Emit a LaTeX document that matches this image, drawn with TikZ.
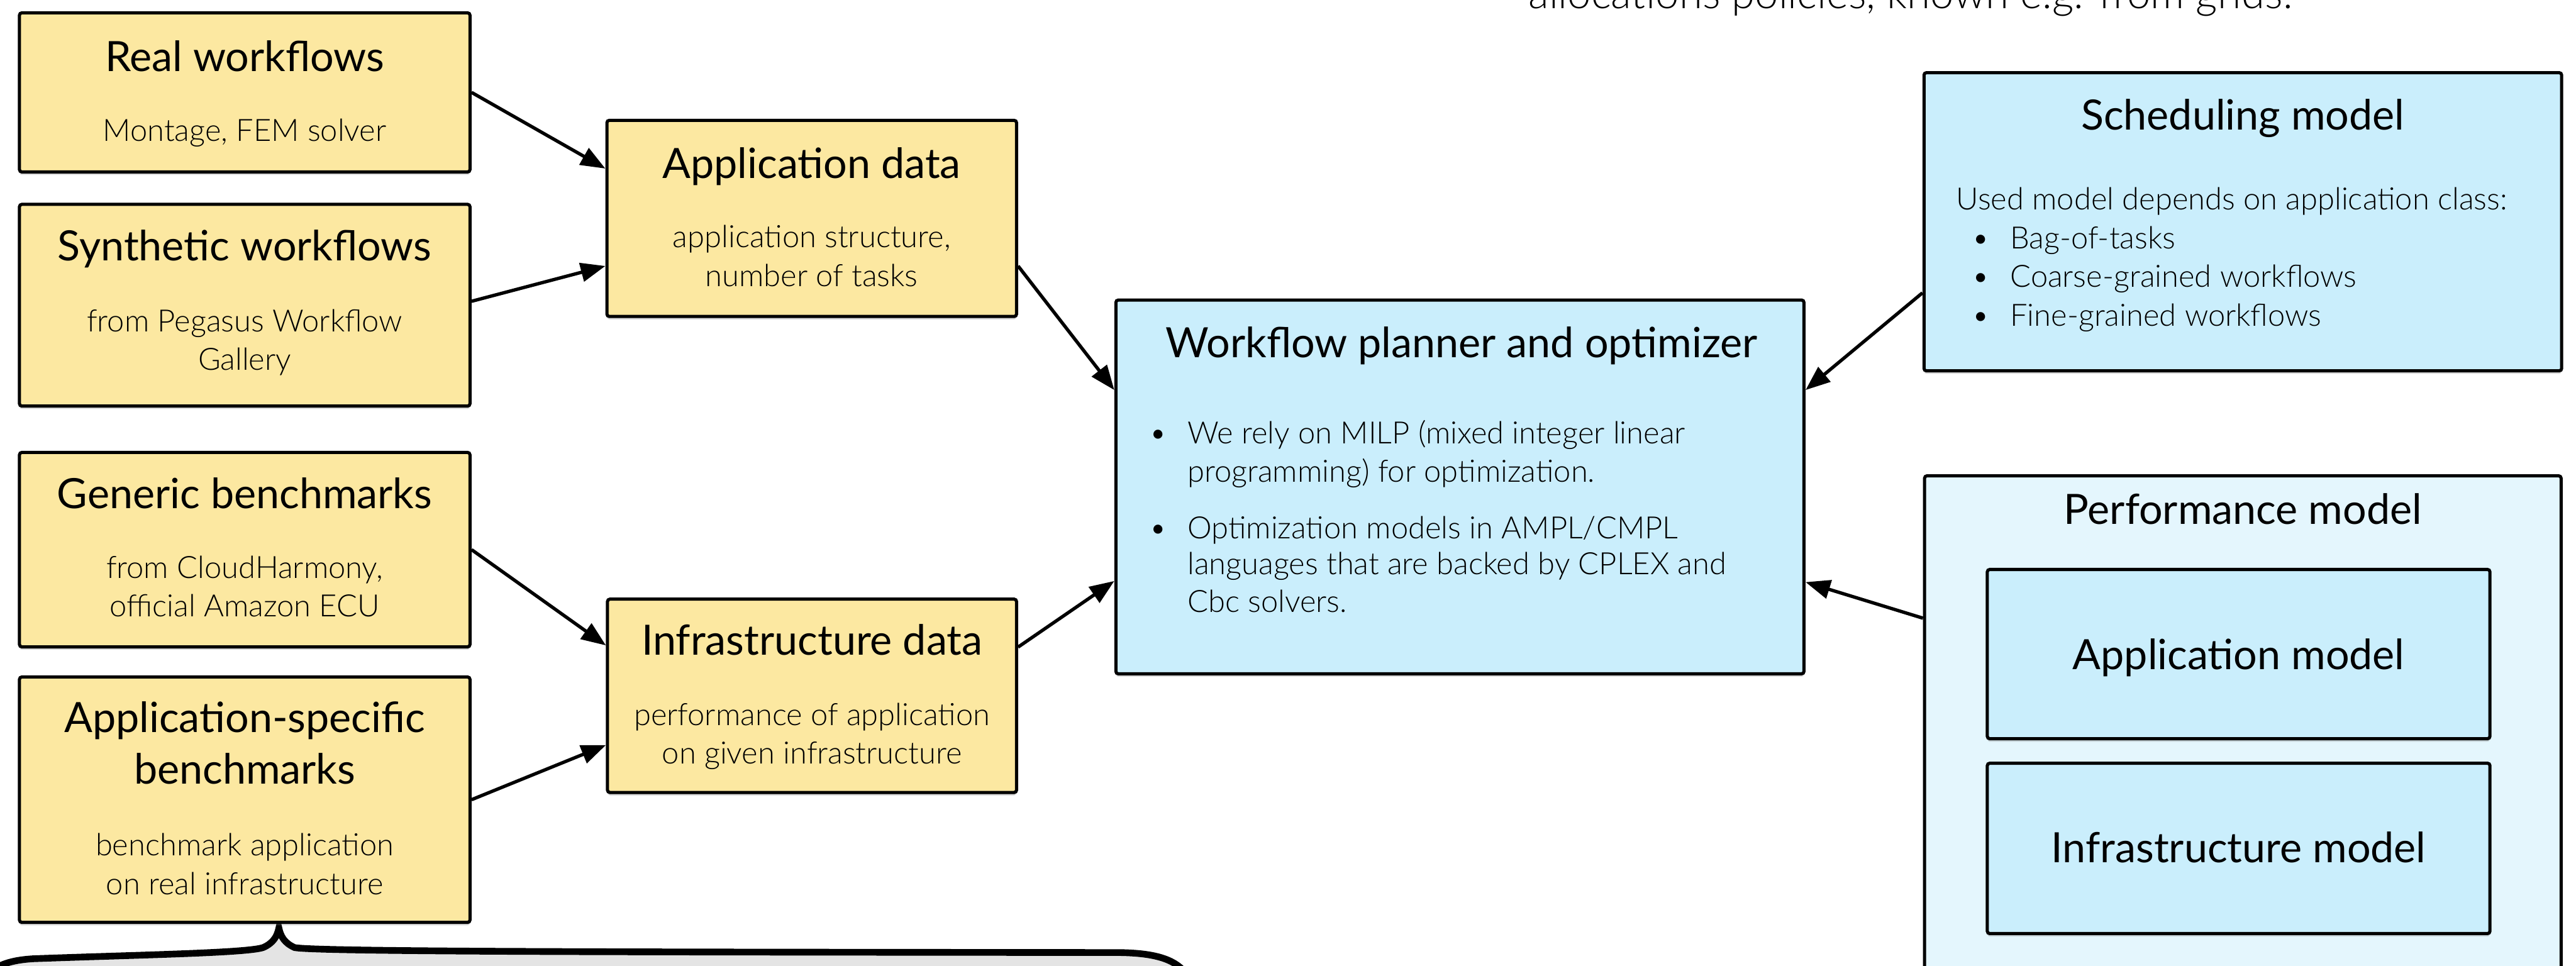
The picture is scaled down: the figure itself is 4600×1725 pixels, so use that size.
\documentclass[tikz,border=0pt]{standalone}
\usepackage{fontspec}
\setmainfont{Lato}
\newfontfamily\lightfont{Lato Light}
\usetikzlibrary{calc,shadows,arrows.meta}
\definecolor{ycol}{RGB}{252,232,161}
\definecolor{bcol}{RGB}{202,238,252}
\definecolor{pcol}{RGB}{228,246,253}
\definecolor{gcol}{RGB}{228,228,228}
\begin{document}
\begin{tikzpicture}[x=0.01cm,y=-0.01cm,
  box/.style={draw=black, line width=1.6pt, rounded corners=1.2pt, inner sep=0pt,
    drop shadow={shadow xshift=0pt, shadow yshift=-1.5pt, opacity=0.3}},
  ybox/.style={box, fill=ycol},
  bbox/.style={box, fill=bcol},
  pbox/.style={box, fill=pcol},
  ttl/.style={font=\fontsize{21.2}{25}\selectfont, inner sep=0pt, anchor=base},
  sub/.style={font=\lightfont\fontsize{15.6}{18}\selectfont, inner sep=0pt, anchor=base},
  subl/.style={sub, anchor=base west},
  flow/.style={line width=1.7pt, -{Triangle[length=12.5pt,width=9.5pt]}},
]
\useasboundingbox (0,0) rectangle (4600,1725);
\clip (0,0) rectangle (4600,1725);

% grey callout with a brace pointing at the benchmark box
\draw[line width=3.4pt, fill=gcol]
  (-40,1800) .. controls (-40,1740) and (-10,1716) .. (60,1712)
  .. controls (250,1705) and (440,1702) .. (470,1692)
  .. controls (488,1684) and (495,1672) .. (498,1657)
  .. controls (501,1672) and (508,1684) .. (526,1692)
  .. controls (560,1700) and (1200,1700) .. (2000,1701)
  .. controls (2060,1702) and (2095,1712) .. (2115,1735)
  -- (2140,1800) -- cycle;

% text running in from above
\node[sub, font=\lightfont\fontsize{21.4}{25}\selectfont, anchor=base west] (toptext) at (2729,15) {allocations policies, known e.g. from grids.};

% input sources
\node[ybox, minimum width=8.04cm, minimum height=2.84cm] (real) at (437,165) {};
\node[ttl] (realT) at (437,127) {Real workflows};
\node[sub] (realS) at (437,252) {Montage, FEM solver};

\node[ybox, minimum width=8.04cm, minimum height=3.60cm] (synth) at (437,545) {};
\node[ttl] (synthT) at (437,466) {Synthetic workflows};
\node[sub] (synthS1) at (437,592) {from Pegasus Workflow};
\node[sub] (synthS2) at (437,661) {Gallery};

\node[ybox, minimum width=8.04cm, minimum height=3.47cm] (generic) at (437,981.5) {};
\node[ttl] (genericT) at (437,908) {Generic benchmarks};
\node[sub] (genericS1) at (437,1033) {from CloudHarmony,};
\node[sub] (genericS2) at (437,1101) {official Amazon ECU};

\node[ybox, minimum width=8.04cm, minimum height=4.38cm] (appspec) at (437,1428) {};
\node[ttl] (appspecT1) at (437,1308) {Application-specific};
\node[ttl] (appspecT2) at (437,1400) {benchmarks};
\node[sub] (appspecS1) at (437,1528) {benchmark application};
\node[sub] (appspecS2) at (437,1597) {on real infrastructure};

% aggregated data
\node[ybox, minimum width=7.31cm, minimum height=3.50cm] (appdata) at (1449.5,390) {};
\node[ttl] (appdataT) at (1449.5,318) {Application data};
\node[sub] (appdataS1) at (1449.5,442) {application structure,};
\node[sub] (appdataS2) at (1449.5,511) {number of tasks};

\node[ybox, minimum width=7.30cm, minimum height=3.45cm] (infradata) at (1450,1242.5) {};
\node[ttl] (infradataT) at (1450,1170) {Infrastructure data};
\node[sub] (infradataS1) at (1450,1295) {performance of application};
\node[sub] (infradataS2) at (1450,1364) {on given infrastructure};

% planner
\node[bbox, minimum width=12.28cm, minimum height=6.67cm] (planner) at (2607,869.5) {};
\node[ttl] (plannerT) at (2610,639) {Workflow planner and optimizer};
\node[sub] (pb1) at (2068,792) {•};
\node[subl] (pl1) at (2120,792) {We rely on MILP (mixed integer linear};
\node[subl] (pl2) at (2120,861) {programming) for optimization.};
\node[sub] (pb2) at (2068,962) {•};
\node[subl] (pl3) at (2120,962) {Optimization models in AMPL/CMPL};
\node[subl] (pl4) at (2120,1026) {languages that are backed by CPLEX and};
\node[subl] (pl5) at (2120,1093) {Cbc solvers.};

% scheduling model
\node[bbox, minimum width=11.38cm, minimum height=5.32cm] (sched) at (4005,396) {};
\node[ttl] (schedT) at (4005,232) {Scheduling model};
\node[subl] (s0) at (3493,375) {Used model depends on application class:};
\node[sub] (sb1) at (3537,444) {•};
\node[subl] (s1) at (3589,444) {Bag-of-tasks};
\node[sub] (sb2) at (3537,513) {•};
\node[subl] (s2) at (3589,513) {Coarse-grained workflows};
\node[sub] (sb3) at (3537,582) {•};
\node[subl] (s3) at (3589,582) {Fine-grained workflows};

% performance model
\node[pbox, minimum width=11.36cm, minimum height=10.50cm] (perf) at (4005,1375) {};
\node[ttl] (perfT) at (4005,936) {Performance model};
\node[bbox, minimum width=8.97cm, minimum height=3.02cm] (appmodel) at (3997.5,1168) {};
\node[ttl] (appmodelT) at (3997.5,1195) {Application model};
\node[bbox, minimum width=8.97cm, minimum height=3.04cm] (inframodel) at (3997.5,1515) {};
\node[ttl] (inframodelT) at (3997.5,1540) {Infrastructure model};

% connectors
\draw[flow] (real.east) -- ($(appdata.west)+(0,-89)$);
\draw[flow] ($(synth.east)+(0,-7)$) -- ($(appdata.west)+(0,85)$);
\draw[flow] (generic.east) -- ($(infradata.west)+(0,-90)$);
\draw[flow] (appspec.east) -- ($(infradata.west)+(0,88)$);
\draw[flow] ($(appdata.east)+(0,85)$) -- ($(planner.west)+(0,-173)$);
\draw[flow] ($(infradata.east)+(0,-87)$) -- ($(planner.west)+(0,168)$);
\draw[flow] ($(sched.west)+(0,127)$) -- ($(planner.east)+(0,-173)$);
\draw[flow] ($(perf.north west)+(0,257)$) -- ($(planner.east)+(0,170)$);
\end{tikzpicture}
\end{document}
